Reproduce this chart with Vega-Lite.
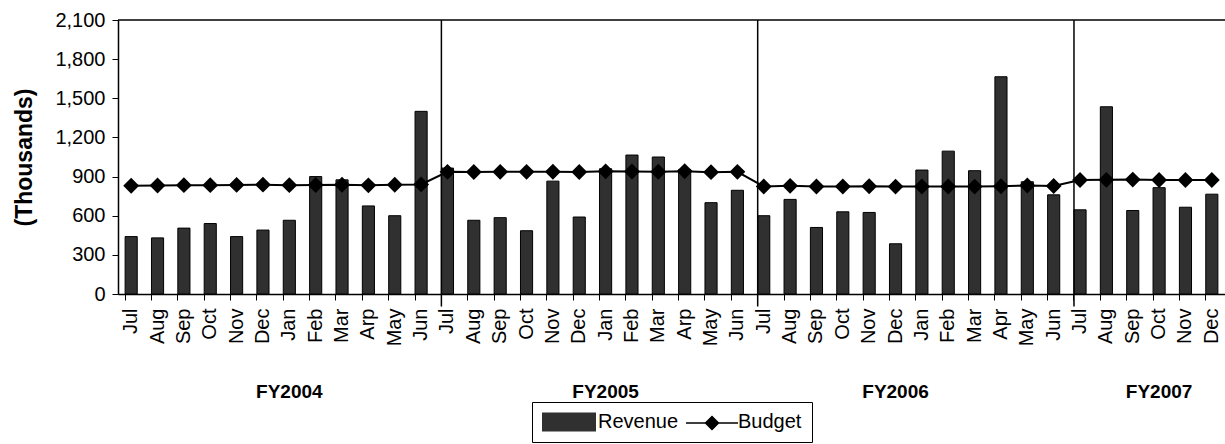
{
  "$schema": "https://vega.github.io/schema/vega-lite/v6.json",
  "autosize": "none",
  "padding": {"left": 118, "top": 20, "right": 0, "bottom": 150},
  "width": 1107,
  "height": 274,
  "background": "white",
  "config": {
    "font": "Liberation Sans",
    "view": {"stroke": null},
    "axis": {"domainColor": "#000", "domainWidth": 1.5, "tickColor": "#000", "labelColor": "#000", "titleColor": "#000", "grid": false}
  },
  "datasets": {
    "m": [
      {"k": "2004-01|Jul", "rev": 440, "bud": 830},
      {"k": "2004-02|Aug", "rev": 430, "bud": 832},
      {"k": "2004-03|Sep", "rev": 505, "bud": 834},
      {"k": "2004-04|Oct", "rev": 540, "bud": 834},
      {"k": "2004-05|Nov", "rev": 440, "bud": 836},
      {"k": "2004-06|Dec", "rev": 490, "bud": 838},
      {"k": "2004-07|Jan", "rev": 565, "bud": 834},
      {"k": "2004-08|Feb", "rev": 900, "bud": 835},
      {"k": "2004-09|Mar", "rev": 875, "bud": 837},
      {"k": "2004-10|Arp", "rev": 675, "bud": 833},
      {"k": "2004-11|May", "rev": 600, "bud": 837},
      {"k": "2004-12|Jun", "rev": 1400, "bud": 840},
      {"k": "2005-01|Jul", "rev": 965, "bud": 936},
      {"k": "2005-02|Aug", "rev": 565, "bud": 935},
      {"k": "2005-03|Sep", "rev": 585, "bud": 936},
      {"k": "2005-04|Oct", "rev": 485, "bud": 936},
      {"k": "2005-05|Nov", "rev": 865, "bud": 937},
      {"k": "2005-06|Dec", "rev": 590, "bud": 935},
      {"k": "2005-07|Jan", "rev": 960, "bud": 940},
      {"k": "2005-08|Feb", "rev": 1065, "bud": 939},
      {"k": "2005-09|Mar", "rev": 1050, "bud": 937},
      {"k": "2005-10|Arp", "rev": 955, "bud": 941},
      {"k": "2005-11|May", "rev": 700, "bud": 934},
      {"k": "2005-12|Jun", "rev": 795, "bud": 936},
      {"k": "2006-01|Jul", "rev": 600, "bud": 824},
      {"k": "2006-02|Aug", "rev": 725, "bud": 829},
      {"k": "2006-03|Sep", "rev": 510, "bud": 824},
      {"k": "2006-04|Oct", "rev": 630, "bud": 824},
      {"k": "2006-05|Nov", "rev": 625, "bud": 826},
      {"k": "2006-06|Dec", "rev": 385, "bud": 823},
      {"k": "2006-07|Jan", "rev": 950, "bud": 824},
      {"k": "2006-08|Feb", "rev": 1095, "bud": 824},
      {"k": "2006-09|Mar", "rev": 945, "bud": 823},
      {"k": "2006-10|Apr", "rev": 1665, "bud": 826},
      {"k": "2006-11|May", "rev": 860, "bud": 832},
      {"k": "2006-12|Jun", "rev": 760, "bud": 828},
      {"k": "2007-01|Jul", "rev": 645, "bud": 874},
      {"k": "2007-02|Aug", "rev": 1435, "bud": 875},
      {"k": "2007-03|Sep", "rev": 640, "bud": 877},
      {"k": "2007-04|Oct", "rev": 815, "bud": 874},
      {"k": "2007-05|Nov", "rev": 665, "bud": 874},
      {"k": "2007-06|Dec", "rev": 765, "bud": 874}
    ],
    "sep": [
      {"k": "2005-01|Jul"},
      {"k": "2006-01|Jul"},
      {"k": "2007-01|Jul"}
    ],
    "top": [
      {"v": 2100}
    ],
    "fy": [
      {"k": "2004-07|Jan", "t": "FY2004"},
      {"k": "2005-07|Jan", "t": "FY2005"},
      {"k": "2006-06|Dec", "t": "FY2006"},
      {"k": "2007-04|Oct", "t": "FY2007"}
    ]
  },
  "layer": [
    {
      "data": {"name": "m"},
      "mark": {"type": "bar", "stroke": "#000", "strokeWidth": 1},
      "encoding": {
        "x": {
          "field": "k", "type": "nominal",
          "scale": {"paddingInner": 0.54, "paddingOuter": 0.27},
          "axis": {
            "title": null, "labelAngle": 270, "labelFontSize": 20,
            "labelExpr": "split(datum.label, '|')[1]",
            "bandPosition": 0,
            "tickSize": 6, "labelPadding": 8
          }
        },
        "y": {
          "field": "rev", "type": "quantitative",
          "scale": {"domain": [0, 2100], "nice": false},
          "axis": {
            "title": "(Thousands)", "titleFontSize": 23, "titleFontWeight": "bold",
            "titlePadding": 18, "values": [0, 300, 600, 900, 1200, 1500, 1800, 2100],
            "tickCount": 10,
            "labelExpr": "format(datum.value, ',')", "labelOverlap": false,
            "labelFontSize": 20, "tickSize": 6, "labelPadding": 7
          }
        },
        "fill": {
          "datum": "Revenue", "type": "nominal",
          "scale": {"domain": ["Revenue", "Budget"], "range": ["#303030", "rgba(0,0,0,0)"]},
          "legend": {
            "orient": "none", "legendX": 414, "legendY": 382,
            "direction": "horizontal", "title": null,
            "strokeColor": "#000", "padding": 10,
            "labelFontSize": 20, "labelColor": "#000",
            "symbolType": "M-2.7,-0.95H2.7V0.95H-2.7Z",
            "symbolSize": 400, "symbolStrokeWidth": 0,
            "symbolOffset": 17, "labelOffset": 19, "columnPadding": 3
          }
        }
      }
    },
    {
      "data": {"name": "m"},
      "mark": {"type": "line", "strokeWidth": 2,
               "point": {"shape": "diamond", "size": 170, "filled": true, "color": "#000"}},
      "encoding": {
        "x": {"field": "k", "type": "nominal"},
        "y": {"field": "bud", "type": "quantitative"},
        "stroke": {
          "datum": "Budget", "type": "nominal",
          "scale": {"domain": ["Budget"], "range": ["#000000"]},
          "legend": {
            "orient": "none", "legendX": 556, "legendY": 382,
            "direction": "horizontal", "title": null,
            "padding": 10, "labelFontSize": 20,
            "labelExpr": "''",
            "symbolType": "M-2.6,0H2.6M0,-0.65L0.65,0L0,0.65L-0.65,0Z",
            "symbolSize": 400, "symbolStrokeWidth": 1.5,
            "symbolFillColor": "#000", "symbolOffset": 17
          }
        }
      }
    },
    {
      "data": {"name": "sep"},
      "mark": {"type": "rule", "color": "#000", "strokeWidth": 1.5},
      "encoding": {
        "x": {"field": "k", "type": "nominal", "bandPosition": 0},
        "y": {"datum": 2100, "type": "quantitative"},
        "y2": {"datum": -95}
      }
    },
    {
      "data": {"name": "top"},
      "mark": {"type": "rule", "color": "#000", "strokeWidth": 1.5},
      "encoding": {
        "y": {"field": "v", "type": "quantitative"}
      }
    },
    {
      "data": {"name": "fy"},
      "mark": {"type": "text", "fontWeight": "bold", "fontSize": 19, "baseline": "middle", "color": "#000"},
      "encoding": {
        "x": {"field": "k", "type": "nominal"},
        "y": {"datum": -750, "type": "quantitative"},
        "text": {"field": "t"}
      }
    }
  ]
}
